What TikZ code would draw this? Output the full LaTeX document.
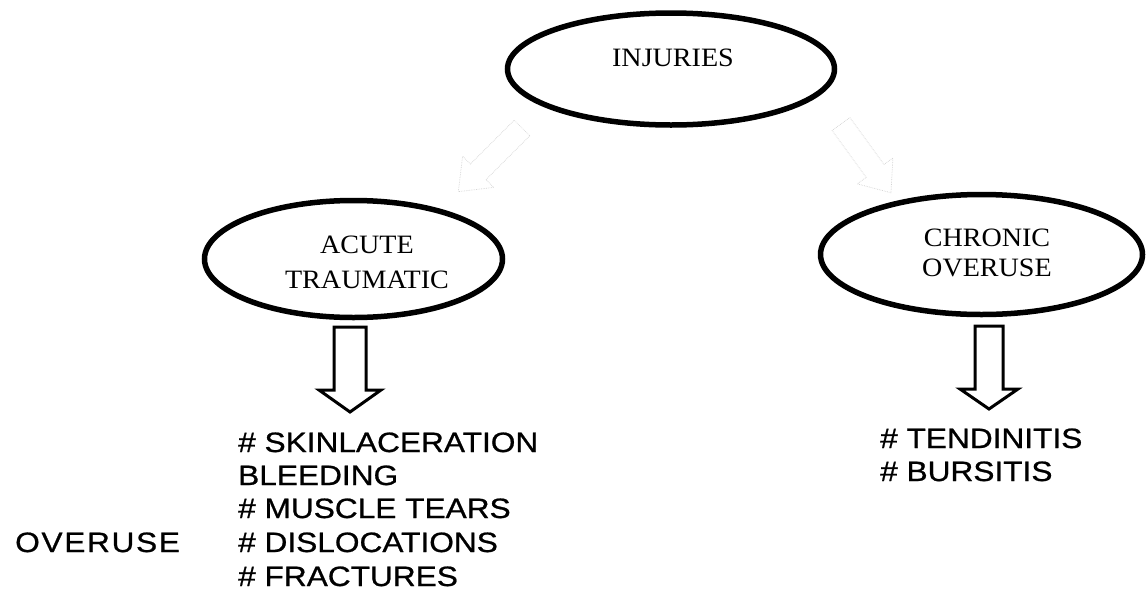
\documentclass[tikz,border=0pt]{standalone}
\usepackage{fontspec}
\setmainfont{Liberation Serif}[FakeStretch=1.06]
\newfontfamily\listfont{Liberation Sans}[FakeStretch=1.13,FakeBold=0.8]
\newfontfamily\spacedfont{Liberation Sans}[FakeStretch=1.13,FakeBold=0.8,LetterSpace=6]
\usetikzlibrary{shapes.geometric}
\begin{document}
\begin{tikzpicture}[x=1pt,y=-1pt,
  oval/.style={ellipse,draw,line width=5.5pt,inner sep=0pt},
  blockarrow/.style={draw,line width=3pt,line join=miter},
  faintarrow/.style={draw=gray!35,densely dotted,line width=0.7pt},
  ovaltext/.style={align=center,inner sep=0pt},
  listtext/.style={font=\listfont\fontsize{28}{33}\selectfont,anchor=base west,inner sep=0pt}]
\useasboundingbox (0,0) rectangle (1146,592);

% ovals
\node[oval,minimum width=327pt,minimum height=112pt] (inj) at (671,69) {};
\node[oval,minimum width=298pt,minimum height=117pt] (acute) at (353.5,259) {};
\node[oval,minimum width=322pt,minimum height=120pt] (chronic) at (981.5,254.5) {};

% oval texts
\node[ovaltext,font=\fontsize{26.5}{32}\selectfont] (tinj) at (673,58) {INJURIES};
\node[ovaltext,font=\fontsize{26.5}{35}\selectfont] (tacute) at (367,262) {ACUTE\\TRAUMATIC};
\node[ovaltext,font=\fontsize{26.5}{30}\selectfont] (tchronic) at (987,253) {CHRONIC\\OVERUSE};

% faint block arrows from the top oval
\coordinate (fl) at (522,128);
\coordinate (fr) at (841,124);
\draw[faintarrow,shift={(fl)},rotate=225]
  (0,-11) -- (62,-11) -- (62,-22) -- (90,0) -- (62,22) -- (62,11) -- (0,11) -- cycle;
\draw[faintarrow,shift={(fr)},rotate=-54]
  (0,-11) -- (58,-11) -- (58,-22) -- (85,0) -- (58,22) -- (58,11) -- (0,11) -- cycle;

% block arrows
\coordinate (al) at (350,327);
\coordinate (ar) at (989,326);
\draw[blockarrow,shift={(al)}]
  (-16,0) -- (16,0) -- (16,63) -- (31,63) -- (0,85) -- (-31,63) -- (-16,63) -- cycle;
\draw[blockarrow,shift={(ar)}]
  (-14,0) -- (14,0) -- (14,63) -- (29,63) -- (0,83) -- (-29,63) -- (-14,63) -- cycle;

% lists
\node[listtext] (l1) at (238,452) {\# SKINLACERATION};
\node[listtext] (l2) at (238,485) {BLEEDING};
\node[listtext] (l3) at (238,518) {\# MUSCLE TEARS};
\node[listtext] (l4) at (238,552) {\# DISLOCATIONS};
\node[listtext] (l5) at (238,586) {\# FRACTURES};
\node[listtext,font=\spacedfont\fontsize{28}{33}\selectfont] (ov) at (15,552) {OVERUSE};

\node[listtext] (r1) at (880,448) {\# TENDINITIS};
\node[listtext] (r2) at (880,481) {\# BURSITIS};
\end{tikzpicture}
\end{document}
